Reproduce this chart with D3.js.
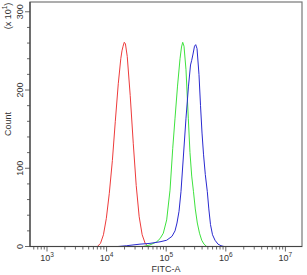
<!DOCTYPE html>
<html>
<head>
<meta charset="utf-8">
<script src="https://cdn.jsdelivr.net/npm/d3@7"></script>
<style>
  body { margin: 0; background: #fff; }
  svg { display: block; font-family: "Liberation Sans", Arial, sans-serif; }
</style>
</head>
<body>
<svg id="drawing_region"></svg>
<script>
// histogram traces: FITC-A value and count (x 10^1)
const red_fitc = [7000, 7900, 8850, 9900, 11100, 12500, 14000, 15700, 17300, 18100, 18900, 19800, 20700, 22200, 24900, 28000, 31400, 35200, 39500, 44400, 49800];
const red_count = [0, 4, 15, 36, 68, 110, 160, 208, 240, 250, 256, 261, 259, 243, 193, 132, 78, 38, 15, 4, 0];

const green_fitc = [40800, 53500, 69300, 78700, 89400, 101900, 115900, 128600, 140600, 154900, 170600, 180700, 189200, 199000, 214800, 234900, 250600, 267900, 287100, 307600, 332700, 362200, 394500, 430500, 478600];
const green_count = [0, 2, 6, 10, 17, 34, 72, 125, 164, 205, 240, 255, 261, 256, 226, 164, 120, 90, 70, 48, 30, 17, 8, 3, 0];

const blue_fitc = [15500, 21700, 36300, 53500, 78700, 101900, 125100, 140600, 151700, 164100, 177000, 191400, 214800, 236600, 255900, 267900, 281800, 298500, 312600, 328900, 354800, 376700, 399000, 422700, 452900, 489800, 518800, 553400, 598400, 659200, 739600, 829800, 933300];
const blue_count = [0, 1, 3, 4, 6, 8, 13, 20, 30, 45, 70, 108, 164, 205, 232, 238, 246, 256, 258, 253, 220, 180, 145, 118, 92, 70, 48, 28, 15, 8, 3, 1, 0];

const x_decades = [3, 4, 5, 6, 7];
const y_major = [0, 100, 200, 300];

class FlowHistogram {

    constructor( config ) {
        this.config = {
            parent: config.parent,
            width: config.width || 307,
            height: config.height || 275,
            left: config.left,
            right: config.right,
            top: config.top,
            bottom: config.bottom
        };
        this.init();
    }

    init() {
        let self = this;

        self.svg = d3.select( self.config.parent )
            .attr('width', self.config.width)
            .attr('height', self.config.height);

        // decade positions measured on the picture, then stretched to the frame
        let probe = d3.scaleLog().domain([1e3, 1e7]).range([47, 285.4]);
        self.xscale = d3.scaleLog()
            .domain([probe.invert(self.config.left), probe.invert(self.config.right)])
            .range([self.config.left, self.config.right]);

        self.yscale = d3.scaleLinear()
            .domain([0, 312.5])
            .range([self.config.bottom, self.config.top]);

        self.line = d3.line()
            .x(d => self.xscale(d[0]))
            .y(d => self.yscale(d[1]));
    }

    render() {
        let self = this;
        const c = self.config;
        const ink = '#444';

        // traces
        const series = [
            { fitc: red_fitc, count: red_count, color: '#ee3b3b' },
            { fitc: green_fitc, count: green_count, color: '#3ee23e' },
            { fitc: blue_fitc, count: blue_count, color: '#2a2ad0' }
        ];
        series.forEach(s => {
            self.svg.append('path')
                .datum(s.fitc.map((v, i) => [v, s.count[i]]))
                .attr('d', self.line)
                .attr('fill', 'none')
                .attr('stroke', s.color)
                .attr('stroke-width', 1);
        });

        // frame
        self.svg.append('rect')
            .attr('x', c.left)
            .attr('y', c.top)
            .attr('width', c.right - c.left)
            .attr('height', c.bottom - c.top)
            .attr('fill', 'none')
            .attr('stroke', '#777')
            .attr('stroke-width', 1.2);

        // x axis (log, minor ticks 2..9)
        const [x0, x1] = self.xscale.domain();
        let xticks = [];
        for (let e = Math.floor(Math.log10(x0)); e <= Math.ceil(Math.log10(x1)); e++) {
            for (let m = 1; m <= 9; m++) {
                const v = m * Math.pow(10, e);
                if (v >= x0 && v <= x1) xticks.push({ v: v, major: m === 1 });
            }
        }
        self.svg.append('line')
            .attr('x1', c.left).attr('x2', c.right)
            .attr('y1', c.bottom).attr('y2', c.bottom)
            .attr('stroke', ink).attr('stroke-width', 1.2);
        self.svg.selectAll('.xtick')
            .data(xticks)
            .enter()
            .append('line')
            .attr('x1', d => self.xscale(d.v)).attr('x2', d => self.xscale(d.v))
            .attr('y1', c.bottom).attr('y2', d => c.bottom + (d.major ? 5 : 3))
            .attr('stroke', ink).attr('stroke-width', 0.8);

        const xlab = self.svg.selectAll('.xlab')
            .data(x_decades)
            .enter()
            .append('text')
            .attr('x', d => self.xscale(Math.pow(10, d)))
            .attr('y', 261)
            .attr('text-anchor', 'middle')
            .attr('font-size', '9px')
            .attr('fill', '#333');
        xlab.append('tspan').text('10');
        xlab.append('tspan').attr('dy', -4).attr('font-size', '6.5px').text(d => d);

        self.svg.append('text')
            .attr('x', 166)
            .attr('y', 272)
            .attr('text-anchor', 'middle')
            .attr('font-size', '9px')
            .attr('fill', '#333')
            .text('FITC-A');

        // y axis (major every 100, minor every 20)
        self.svg.append('line')
            .attr('x1', c.left).attr('x2', c.left)
            .attr('y1', c.top).attr('y2', c.bottom)
            .attr('stroke', ink).attr('stroke-width', 1.2);
        self.svg.selectAll('.ytick')
            .data(d3.range(0, 313, 20))
            .enter()
            .append('line')
            .attr('x1', c.left).attr('x2', d => c.left - (d % 100 === 0 ? 5 : 3))
            .attr('y1', d => self.yscale(d)).attr('y2', d => self.yscale(d))
            .attr('stroke', ink).attr('stroke-width', 0.8);

        self.svg.selectAll('.ylab')
            .data(y_major)
            .enter()
            .append('text')
            .attr('transform', d => `translate(23, ${self.yscale(d)}) rotate(-90)`)
            .attr('text-anchor', 'middle')
            .attr('font-size', '9px')
            .attr('fill', '#333')
            .text(d => d);

        self.svg.append('text')
            .attr('transform', 'translate(11, 124) rotate(-90)')
            .attr('text-anchor', 'middle')
            .attr('font-size', '9px')
            .attr('fill', '#333')
            .text('Count');

        const mult = self.svg.append('text')
            .attr('transform', 'translate(11, 16) rotate(-90)')
            .attr('text-anchor', 'middle')
            .attr('font-size', '9px')
            .attr('fill', '#333');
        mult.append('tspan').text('(x 10');
        mult.append('tspan').attr('dy', -4).attr('font-size', '6.5px').text('1');
        mult.append('tspan').attr('dy', 4).text(')');
    }
}

const chart = new FlowHistogram({
    parent: '#drawing_region',
    width: 307,
    height: 275,
    left: 30,
    right: 302,
    top: 2,
    bottom: 246.5
});
chart.render();
</script>
</body>
</html>
